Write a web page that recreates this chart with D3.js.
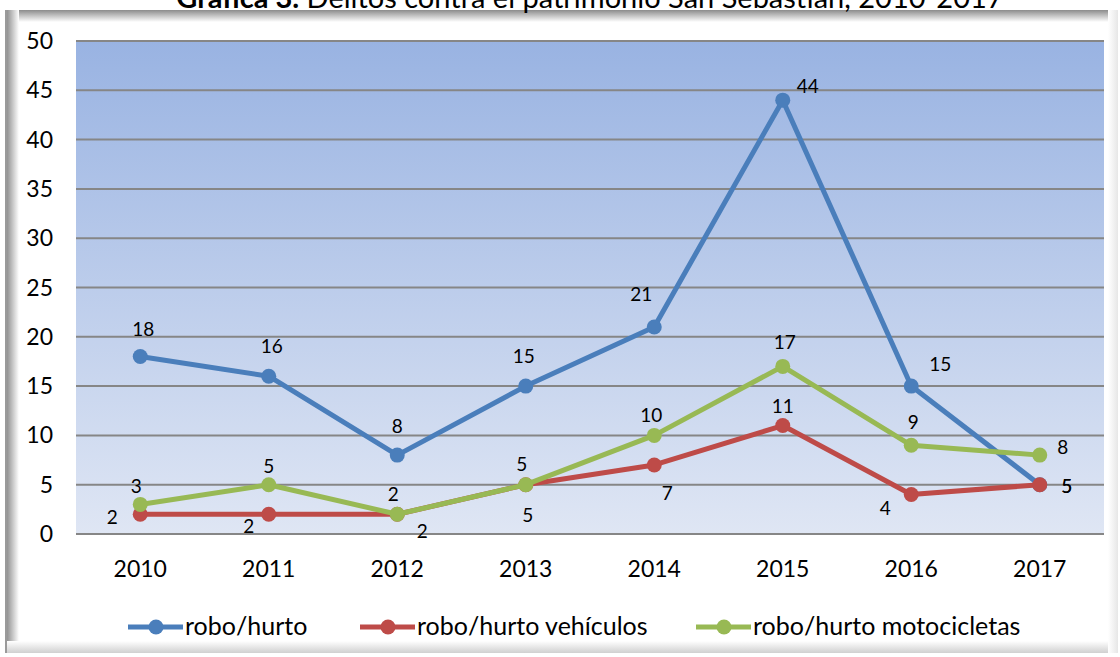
<!DOCTYPE html>
<html>
  <head>
    <meta charset="utf-8">
    <title>Delitos contra el patrimonio</title>
    <script src="https://cdnjs.cloudflare.com/ajax/libs/d3/7.8.5/d3.min.js"></script>
    <style>
      body { margin: 0; background: #fff; }
      text { font-family: Lato, "Open Sans", sans-serif; fill: #000; }
    </style>
  </head>
  <body>

    <svg class="chart" width="1120" height="657"></svg>

    <script>

      var years = ["2010", "2011", "2012", "2013", "2014", "2015", "2016", "2017"];
      var roboHurto = [18, 16, 8, 15, 21, 44, 15, 5];
      var vehiculos = [2, 2, 2, 5, 7, 11, 4, 5];
      var motos = [3, 5, 2, 5, 10, 17, 9, 8];
      var yTicks = [0, 5, 10, 15, 20, 25, 30, 35, 40, 45, 50];

      // where each data label sits relative to its point
      var labelOffsets = {
        blue:  [[3,-28],[3,-30],[0,-29],[-2,-30],[-13,-33],[25,-14],[29,-22],[27,1]],
        red:   [[-28,3],[-20,12],[25,17],[2,30],[13,28],[0,-20],[-26,13],[27,1]],
        green: [[-4,-18],[0,-19],[-4,-20],[-4,-21],[-3,-20],[2,-24],[2,-23],[23,-8]]
      };

      var series = [
        { name: "robo/hurto", values: roboHurto, color: "#4a7ebb", key: "blue" },
        { name: "robo/hurto vehículos", values: vehiculos, color: "#be4b48", key: "red" },
        { name: "robo/hurto motocicletas", values: motos, color: "#98b954", key: "green" }
      ];

      var svg = d3.select("svg.chart");
      var defs = svg.append("defs");

      var bg = defs.append("linearGradient").attr("id", "plotbg")
        .attr("x1", 0).attr("y1", 0).attr("x2", 0).attr("y2", 1);
      bg.append("stop").attr("offset", "0%").attr("stop-color", "#99b3e2");
      bg.append("stop").attr("offset", "100%").attr("stop-color", "#dfe6f4");

      function edge(id, x2, y2, c1, c2) {
        var g = defs.append("linearGradient").attr("id", id)
          .attr("x1", 0).attr("y1", 0).attr("x2", x2).attr("y2", y2);
        g.append("stop").attr("offset", "0%").attr("stop-color", c1);
        g.append("stop").attr("offset", "100%").attr("stop-color", c2);
      }
      edge("edgeTop", 0, 1, "#8c8c8c", "#ffffff");
      edge("edgeLeft", 1, 0, "#808080", "#ffffff");
      edge("edgeBottom", 0, 1, "#ffffff", "#d0d0d0");
      edge("edgeRight", 1, 0, "#ffffff", "#e6e6e6");

      // frame with soft shaded edges
      svg.append("rect").attr("x", 5).attr("y", 10).attr("width", 1113).attr("height", 643).attr("fill", "#fff");
      svg.append("rect").attr("x", 5).attr("y", 10).attr("width", 1113).attr("height", 12).attr("fill", "url(#edgeTop)");
      svg.append("rect").attr("x", 5).attr("y", 10).attr("width", 14).attr("height", 643).attr("fill", "url(#edgeLeft)");
      svg.append("rect").attr("x", 5).attr("y", 641).attr("width", 1113).attr("height", 12).attr("fill", "url(#edgeBottom)");
      svg.append("rect").attr("x", 1108).attr("y", 10).attr("width", 10).attr("height", 643).attr("fill", "url(#edgeRight)");
      svg.append("rect").attr("x", 5).attr("y", 10).attr("width", 2).attr("height", 643).attr("fill", "#9a9a9a");

      // title (its top is clipped in the original)
      var title = svg.append("text")
        .attr("x", 590).attr("y", 8)
        .attr("text-anchor", "middle")
        .style("font-size", "29px");
      title.append("tspan").style("font-weight", "bold").text("Gráfica 3.");
      title.append("tspan").text(" Delitos contra el patrimonio San Sebastián, 2010-2017");

      var margin = { left: 76, right: 1104, top: 41, bottom: 534 };

      var x = d3.scalePoint().domain(years)
        .range([margin.left, margin.right]).padding(0.5);
      var y = d3.scaleLinear().domain([0, 50])
        .range([margin.bottom, margin.top]);

      svg.append("rect")
        .attr("x", margin.left).attr("y", margin.top)
        .attr("width", margin.right - margin.left)
        .attr("height", margin.bottom - margin.top)
        .attr("fill", "url(#plotbg)");

      // grid
      svg.append("g").selectAll("line")
        .data(yTicks)
        .enter()
          .append("line")
            .attr("x1", margin.left).attr("x2", margin.right)
            .attr("y1", function(d){ return y(d); })
            .attr("y2", function(d){ return y(d); })
            .attr("stroke", "#868686")
            .attr("stroke-width", 2);

      // y axis labels
      svg.append("g").selectAll("text")
        .data(yTicks)
        .enter()
          .append("text")
            .attr("x", 53)
            .attr("y", function(d){ return y(d) + 8; })
            .attr("text-anchor", "end")
            .style("font-size", "23px")
            .text(function(d){ return d; });

      // x axis labels
      svg.append("g").selectAll("text")
        .data(years)
        .enter()
          .append("text")
            .attr("x", function(d){ return x(d); })
            .attr("y", 577)
            .attr("text-anchor", "middle")
            .style("font-size", "23px")
            .text(function(d){ return d; });

      var line = d3.line()
        .x(function(d, i){ return x(years[i]); })
        .y(function(d){ return y(d); });

      series.forEach(function(s){
        var g = svg.append("g");
        g.append("path")
          .attr("d", line(s.values))
          .attr("fill", "none")
          .attr("stroke", s.color)
          .attr("stroke-width", 5)
          .attr("stroke-linejoin", "round");
        g.selectAll("circle")
          .data(s.values)
          .enter()
            .append("circle")
              .attr("cx", function(d, i){ return x(years[i]); })
              .attr("cy", function(d){ return y(d); })
              .attr("r", 7.5)
              .attr("fill", s.color);
      });

      series.forEach(function(s){
        svg.append("g").selectAll("text")
          .data(s.values)
          .enter()
            .append("text")
              .attr("x", function(d, i){ return x(years[i]) + labelOffsets[s.key][i][0]; })
              .attr("y", function(d, i){ return y(d) + labelOffsets[s.key][i][1] + 7; })
              .attr("text-anchor", "middle")
              .style("font-size", "19px")
              .text(function(d){ return d; });
      });

      // legend
      var legendX = [128, 360, 696];
      var legend = svg.append("g").attr("class", "legend");
      series.forEach(function(s, i){
        var lg = legend.append("g").attr("transform", "translate(" + legendX[i] + ", 627)");
        lg.append("line").attr("x1", 0).attr("x2", 55).attr("y1", 0).attr("y2", 0)
          .attr("stroke", s.color).attr("stroke-width", 5);
        lg.append("circle").attr("cx", 28).attr("cy", 0).attr("r", 7.5).attr("fill", s.color);
        lg.append("text").attr("x", 57).attr("y", 8)
          .style("font-size", "25px")
          .text(s.name);
      });

    </script>
  </body>
</html>
